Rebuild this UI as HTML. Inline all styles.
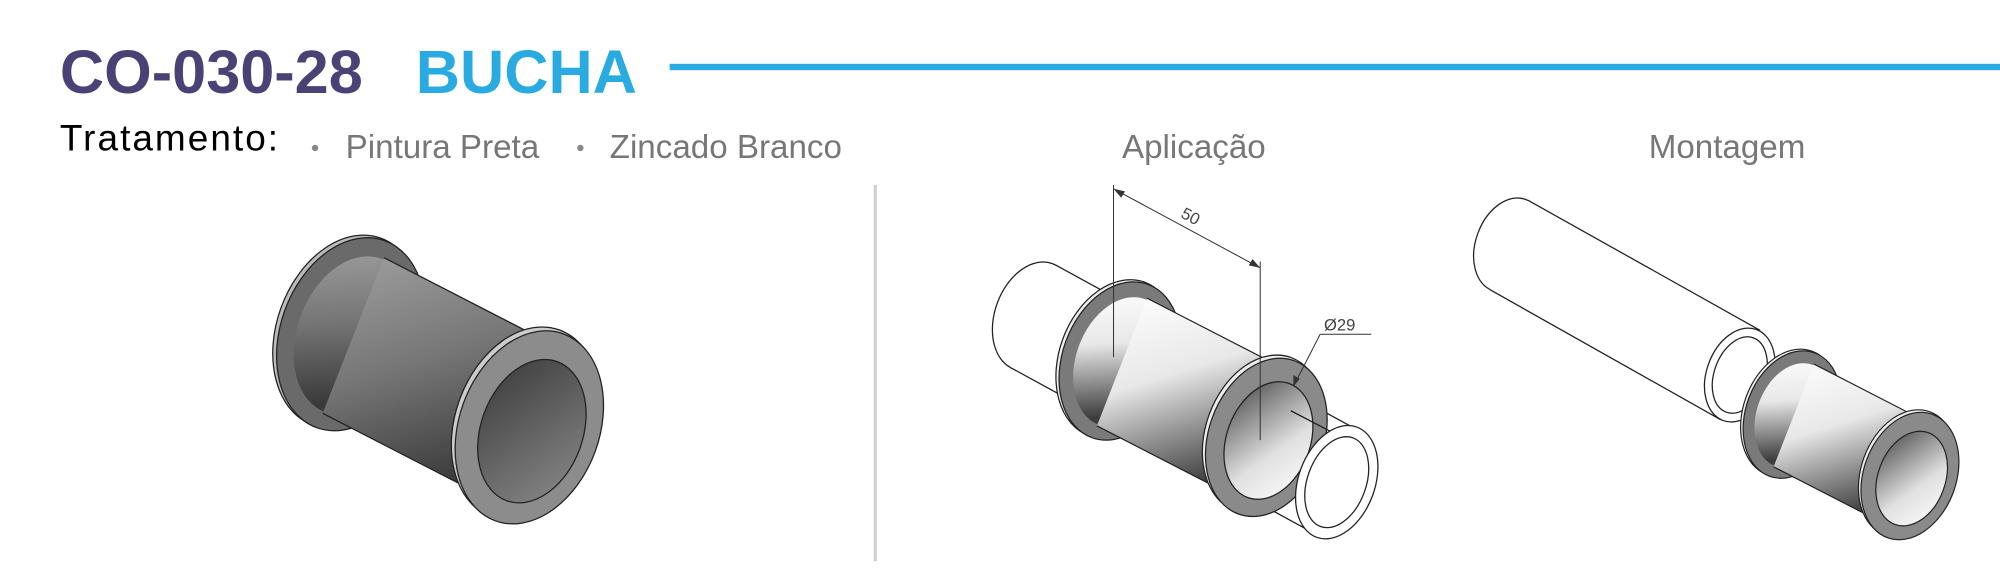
<!DOCTYPE html>
<html><head><meta charset="utf-8"><style>
html,body{margin:0;padding:0;background:#fff;}
svg{display:block;}
</style></head><body>
<svg width="2000" height="578" viewBox="0 0 1568 453.1" xmlns="http://www.w3.org/2000/svg">
<defs>
<linearGradient id="dk" x1="0" y1="0" x2="0.3" y2="1">
<stop offset="0" stop-color="#a0a0a0"/><stop offset="0.5" stop-color="#767676"/><stop offset="1" stop-color="#3a3a3a"/></linearGradient>
<linearGradient id="lt" x1="0" y1="0" x2="0.3" y2="1">
<stop offset="0" stop-color="#ffffff"/><stop offset="0.45" stop-color="#e8e8e8"/><stop offset="1" stop-color="#3c3c3c"/></linearGradient>
<linearGradient id="boreD" x1="0" y1="0" x2="1" y2="1">
<stop offset="0" stop-color="#3a3a3a"/><stop offset="1" stop-color="#8a8a8a"/></linearGradient>
<linearGradient id="boreL" x1="0" y1="0" x2="1" y2="1">
<stop offset="0" stop-color="#444"/><stop offset="0.6" stop-color="#e0e0e0"/><stop offset="1" stop-color="#fff"/></linearGradient>
</defs>

<!-- Header -->
<text x="47" y="73" font-family="Liberation Sans, sans-serif" font-weight="bold" font-size="48" fill="#4a4275">CO-030-28</text>
<text x="326" y="73" font-family="Liberation Sans, sans-serif" font-weight="bold" font-size="48" fill="#29abe2">BUCHA</text>
<rect x="525" y="50" width="1043" height="5" fill="#29abe2"/>
<text x="47" y="118" font-family="Liberation Sans, sans-serif" font-size="29" textLength="171" fill="#000">Tratamento:</text>
<circle cx="247" cy="116" r="2.5" fill="#888"/>
<text x="271" y="124" font-family="Liberation Sans, sans-serif" font-size="26" fill="#777">Pintura Preta</text>
<circle cx="455" cy="116" r="2.5" fill="#888"/>
<text x="478" y="124" font-family="Liberation Sans, sans-serif" font-size="26" fill="#777">Zincado Branco</text>
<text x="936" y="124" text-anchor="middle" font-family="Liberation Sans, sans-serif" font-size="26" fill="#777">Aplicação</text>
<text x="1354" y="124" text-anchor="middle" font-family="Liberation Sans, sans-serif" font-size="26" fill="#777">Montagem</text>
<rect x="685" y="145" width="2.5" height="295" fill="#d0d0d0"/>

<!-- Left bushing (dark) -->
<g transform="translate(275,262)" stroke="#222" stroke-width="1">
<ellipse cx="-3" cy="-2" rx="55" ry="78" transform="rotate(20 -3 -2)" fill="#bbb"/>
<ellipse cx="0" cy="0" rx="55" ry="78" transform="rotate(20)" fill="#6a6a6a"/>
<ellipse cx="2" cy="1" rx="44" ry="64" transform="rotate(20 2 1)" fill="url(#dk)" stroke="none"/>
<polygon points="26,-60 166,12 114,132 -22,62" fill="url(#dk)" stroke="none"/>
<line x1="26" y1="-60" x2="166" y2="12"/><line x1="-22" y1="62" x2="114" y2="132"/>
<ellipse cx="137" cy="70" rx="55" ry="78" transform="rotate(20 137 70)" fill="#ccc"/>
<ellipse cx="140" cy="73" rx="55" ry="78" transform="rotate(20 140 73)" fill="#8c8c8c"/>
<ellipse cx="142" cy="76" rx="40" ry="58" transform="rotate(20 142 76)" fill="url(#boreD)"/>
</g>

<!-- Application: shaft -->
<g stroke="#222" stroke-width="1" fill="#fff">
<ellipse cx="810" cy="248" rx="30" ry="44" transform="rotate(20 810 248)"/>
<polygon points="828,208 1066,338 1030,418 792,288" stroke="none"/>
<line x1="828" y1="208" x2="1066" y2="338"/><line x1="792" y1="288" x2="1030" y2="418"/>
</g>
<g transform="translate(878,283) scale(0.82)" stroke="#222" stroke-width="1.2">
<ellipse cx="-3" cy="-2" rx="55" ry="78" transform="rotate(20 -3 -2)" fill="#eee"/>
<ellipse cx="0" cy="0" rx="55" ry="78" transform="rotate(20)" fill="#7a7a7a"/>
<ellipse cx="2" cy="1" rx="44" ry="64" transform="rotate(20 2 1)" fill="url(#lt)" stroke="none"/>
<polygon points="26,-60 166,12 114,132 -22,62" fill="url(#lt)" stroke="none"/>
<line x1="26" y1="-60" x2="166" y2="12"/><line x1="-22" y1="62" x2="114" y2="132"/>
<ellipse cx="137" cy="70" rx="55" ry="78" transform="rotate(20 137 70)" fill="#eee"/>
<ellipse cx="140" cy="73" rx="55" ry="78" transform="rotate(20 140 73)" fill="#8a8a8a"/>
<ellipse cx="142" cy="76" rx="40" ry="58" transform="rotate(20 142 76)" fill="url(#boreL)"/>
</g>
<g stroke="#222" stroke-width="1" fill="#fff">
<line x1="1012" y1="322" x2="1062" y2="348"/>
<ellipse cx="1048" cy="378" rx="30" ry="46" transform="rotate(20 1048 378)"/>
<ellipse cx="1048" cy="378" rx="23" ry="37" transform="rotate(20 1048 378)"/>
</g>
<!-- dimensions -->
<g stroke="#333" stroke-width="0.8" fill="none">
<line x1="873" y1="145" x2="873" y2="280"/>
<line x1="988" y1="205" x2="988" y2="345"/>
<line x1="873" y1="148" x2="988" y2="210"/>
<line x1="1035" y1="262" x2="1075" y2="262"/>
<line x1="1035" y1="262" x2="1014" y2="303"/>
</g>
<polygon points="873,148 882,150 879,155" fill="#333"/>
<polygon points="988,210 979,208 982,203" fill="#333"/>
<polygon points="1014,303 1014,294 1019,297" fill="#333"/>
<text x="0" y="0" transform="translate(925,170) rotate(28)" font-family="Liberation Sans, sans-serif" font-size="13" fill="#444">50</text>
<text x="1038" y="259" font-family="Liberation Sans, sans-serif" font-size="13" fill="#444">Ø29</text>

<!-- Montagem -->
<g stroke="#222" stroke-width="1" fill="#fff">
<ellipse cx="1183" cy="192" rx="26" ry="38" transform="rotate(20 1183 192)"/>
<polygon points="1198,157 1380,259 1349,329 1168,227" stroke="none"/>
<line x1="1198" y1="157" x2="1380" y2="259"/><line x1="1168" y1="227" x2="1349" y2="329"/>
<ellipse cx="1364" cy="294" rx="26" ry="38" transform="rotate(20 1364 294)"/>
<ellipse cx="1364" cy="294" rx="20" ry="31" transform="rotate(20 1364 294)"/>
</g>
<g transform="translate(1405,325) scale(0.66)" stroke="#222" stroke-width="1.4">
<ellipse cx="-3" cy="-2" rx="55" ry="78" transform="rotate(20 -3 -2)" fill="#eee"/>
<ellipse cx="0" cy="0" rx="55" ry="78" transform="rotate(20)" fill="#7a7a7a"/>
<ellipse cx="2" cy="1" rx="44" ry="64" transform="rotate(20 2 1)" fill="url(#lt)" stroke="none"/>
<polygon points="26,-60 166,12 114,132 -22,62" fill="url(#lt)" stroke="none"/>
<line x1="26" y1="-60" x2="166" y2="12"/><line x1="-22" y1="62" x2="114" y2="132"/>
<ellipse cx="137" cy="70" rx="55" ry="78" transform="rotate(20 137 70)" fill="#eee"/>
<ellipse cx="140" cy="73" rx="55" ry="78" transform="rotate(20 140 73)" fill="#8a8a8a"/>
<ellipse cx="142" cy="76" rx="40" ry="58" transform="rotate(20 142 76)" fill="url(#boreL)"/>
</g>
</svg>
</body></html>
